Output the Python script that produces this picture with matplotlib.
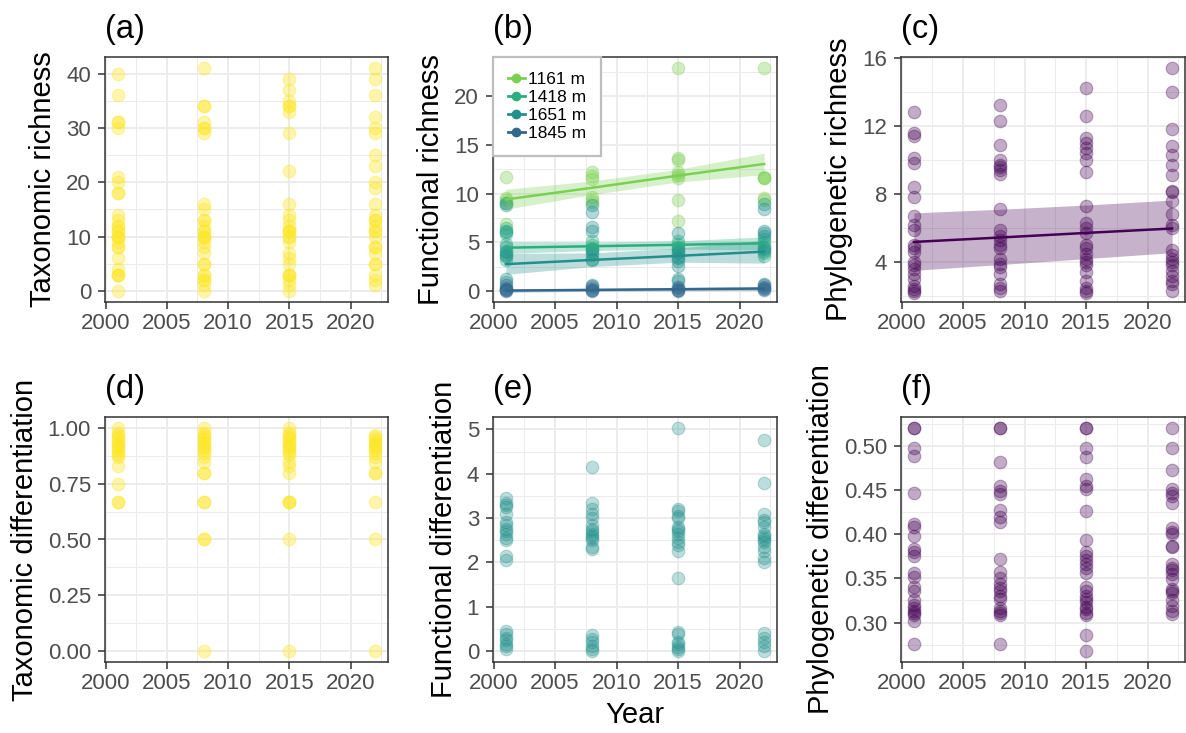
import matplotlib
matplotlib.use("Agg")
import matplotlib.pyplot as plt
from matplotlib.lines import Line2D
from matplotlib.ticker import FormatStrFormatter
import numpy as np

plt.rcParams["font.family"] = ["Liberation Sans", "DejaVu Sans"]

# sampling years (x of every point)
years = [2001, 2008, 2015, 2022]

# (a) taxonomic richness, one list per year
tax_rich = [
    [0, 3, 3, 3, 4, 6, 8, 8, 9, 10, 10, 10, 11, 11, 12, 12, 13, 14, 18, 18, 20, 21, 30, 31, 31, 36, 40],
    [0, 1, 2, 2, 3, 3, 5, 5, 7, 8, 9, 10, 10, 10, 11, 11, 12, 13, 13, 15, 16, 29, 30, 30, 31, 34, 34, 41],
    [0, 1, 2, 3, 3, 3, 5, 6, 7, 9, 10, 10, 11, 11, 11, 12, 13, 14, 16, 22, 29, 33, 34, 34, 35, 37, 39],
    [1, 2, 3, 5, 5, 7, 8, 8, 10, 11, 11, 12, 13, 13, 14, 16, 19, 20, 23, 25, 29, 30, 32, 36, 39, 41],
]

# (b) functional richness by site elevation
sites = ["1161 m", "1418 m", "1651 m", "1845 m"]
fric_1161 = [
    [11.7, 9.5, 9.3, 9.0, 6.9],
    [12.2, 11.8, 11.5, 9.7, 9.3, 9.1],
    [22.9, 13.7, 13.5, 12.2, 11.9, 11.6, 9.3, 7.2],
    [22.9, 11.7, 11.6, 11.6, 9.5, 9.3],
]
fric_1418 = [
    [6.5, 6.1, 5.8, 4.8, 4.0, 3.8, 3.6, 3.2],
    [5.1, 4.7, 4.4, 4.2, 3.7, 3.2],
    [5.1, 4.8, 4.5, 4.2, 3.9, 3.5],
    [5.3, 5.0, 4.6, 4.3, 3.9, 3.6],
]
fric_1651 = [
    [9.0, 8.8, 6.2, 4.5, 4.1, 3.6, 1.2, 0.9],
    [8.8, 8.1, 6.6, 6.2, 4.3, 4.0, 3.3, 0.6],
    [6.0, 4.4, 4.0, 3.4, 3.1, 2.6, 1.2, 1.0],
    [8.9, 8.4, 6.2, 5.9, 5.6, 4.4, 4.1, 0.7],
]
fric_1845 = [
    [0.6, 0.3, 0.2, 0.1, 0.05, 0.0],
    [0.5, 0.3, 0.1, 0.05, 0.0],
    [0.4, 0.3, 0.1, 0.05, 0.0],
    [0.6, 0.4, 0.3, 0.15, 0.05],
]
# fitted trend and confidence band at each year
fit_1161 = [9.4, 10.6, 11.85, 13.05]
lo_1161 = [8.4, 9.9, 11.2, 11.95]
hi_1161 = [10.45, 11.3, 12.5, 14.15]
fit_1418 = [4.44, 4.59, 4.74, 4.89]
lo_1418 = [3.85, 4.15, 4.3, 4.2]
hi_1418 = [5.05, 5.0, 5.15, 5.55]
fit_1651 = [2.75, 3.18, 3.6, 4.03]
lo_1651 = [1.7, 2.5, 2.95, 2.85]
hi_1651 = [3.85, 3.9, 4.4, 5.2]
fit_1845 = [0.03, 0.10, 0.17, 0.24]
lo_1845 = [-0.15, -0.05, 0.0, 0.02]
hi_1845 = [0.2, 0.25, 0.35, 0.45]

# (c) phylogenetic richness
phy_rich = [
    [12.8, 11.6, 11.4, 10.1, 9.8, 8.4, 7.8, 6.7, 6.2, 5.9, 5.0, 4.8, 4.6, 4.0, 3.8, 3.6, 3.3, 3.0, 2.6, 2.4, 2.3, 2.2],
    [13.2, 12.3, 10.9, 10.0, 9.7, 9.6, 9.4, 9.2, 7.1, 5.9, 5.5, 5.3, 5.0, 4.8, 4.2, 3.9, 3.7, 3.3, 2.7, 2.5, 2.3],
    [14.2, 12.6, 11.3, 11.0, 10.7, 10.4, 10.0, 9.3, 7.3, 6.3, 6.0, 5.7, 5.0, 4.8, 4.5, 4.2, 4.0, 3.8, 3.4, 2.9, 2.5, 2.3, 2.2],
    [15.4, 14.0, 11.8, 10.8, 10.3, 9.7, 9.1, 8.2, 8.1, 7.6, 6.8, 6.2, 6.0, 4.7, 4.4, 4.2, 4.0, 3.8, 3.5, 3.2, 2.9, 2.7, 2.3],
]
fit_phy = [5.18, 5.44, 5.71, 5.97]
lo_phy = [3.51, 3.85, 4.2, 4.55]
hi_phy = [6.89, 7.1, 7.35, 7.64]

# (d) taxonomic differentiation
tax_diff = [
    [1.0, 0.98, 0.97, 0.96, 0.95, 0.94, 0.93, 0.92, 0.91, 0.9, 0.89, 0.88, 0.87, 0.83, 0.75, 0.667, 0.667],
    [1.0, 0.98, 0.97, 0.96, 0.95, 0.94, 0.93, 0.92, 0.91, 0.9, 0.89, 0.87, 0.85, 0.8, 0.8, 0.667, 0.667, 0.5, 0.5, 0.0],
    [1.0, 0.98, 0.97, 0.96, 0.95, 0.94, 0.93, 0.92, 0.91, 0.9, 0.89, 0.88, 0.85, 0.83, 0.8, 0.667, 0.667, 0.667, 0.5, 0.0],
    [0.97, 0.96, 0.95, 0.94, 0.93, 0.92, 0.91, 0.9, 0.89, 0.87, 0.85, 0.8, 0.8, 0.667, 0.5, 0.0],
]

# (e) functional differentiation
fun_diff = [
    [3.45, 3.35, 3.3, 3.25, 3.1, 2.9, 2.85, 2.75, 2.7, 2.65, 2.55, 2.5, 2.15, 2.05, 0.45, 0.38, 0.3, 0.25, 0.15, 0.1, 0.05],
    [4.15, 3.35, 3.2, 3.1, 3.0, 2.85, 2.75, 2.7, 2.65, 2.6, 2.55, 2.5, 2.35, 2.3, 0.35, 0.28, 0.2, 0.1, 0.05, 0.0],
    [5.03, 3.2, 3.15, 3.05, 3.0, 2.8, 2.75, 2.7, 2.65, 2.55, 2.45, 2.4, 2.25, 1.65, 0.42, 0.38, 0.2, 0.15, 0.08, 0.05, 0.0],
    [4.75, 3.78, 3.1, 2.95, 2.9, 2.8, 2.65, 2.6, 2.55, 2.5, 2.45, 2.35, 2.25, 2.1, 2.0, 0.4, 0.3, 0.2, 0.1, 0.0],
]

# (f) phylogenetic differentiation
phy_diff = [
    [0.52, 0.52, 0.497, 0.489, 0.447, 0.411, 0.408, 0.398, 0.383, 0.38, 0.375, 0.356, 0.352, 0.34, 0.336,
     0.325, 0.32, 0.316, 0.313, 0.311, 0.309, 0.302, 0.276],
    [0.52, 0.52, 0.482, 0.454, 0.449, 0.446, 0.427, 0.419, 0.414, 0.372, 0.357, 0.351, 0.344, 0.339, 0.336,
     0.33, 0.327, 0.316, 0.313, 0.311, 0.309, 0.276],
    [0.52, 0.52, 0.497, 0.487, 0.462, 0.455, 0.451, 0.426, 0.393, 0.38, 0.375, 0.371, 0.366, 0.362, 0.356,
     0.34, 0.336, 0.33, 0.327, 0.323, 0.318, 0.315, 0.311, 0.309, 0.286, 0.268],
    [0.52, 0.497, 0.473, 0.451, 0.447, 0.443, 0.435, 0.407, 0.403, 0.4, 0.387, 0.385, 0.366, 0.362, 0.359,
     0.355, 0.349, 0.338, 0.336, 0.333, 0.326, 0.319, 0.313, 0.31],
]

YELLOW = "#FDE725"
PURPLE = "#440154"
TEAL = "#21908C"
site_colors = ["#7AD151", "#29AF7F", "#21908C", "#31688E"]

W, H = 1186, 733
fig = plt.figure(figsize=(W / 100, H / 100), dpi=100)


def make_ax(left, top, width=284, height=245):
    return fig.add_axes([left / W, 1 - (top + height) / H, width / W, height / H])


def style(ax, tag, ylabel, ylim, yticks, yminor, fmt=None):
    ax.set_xlim(1999.95, 2023.05)
    ax.set_ylim(*ylim)
    ax.set_xticks([2000, 2005, 2010, 2015, 2020])
    ax.set_xticks([2002.5, 2007.5, 2012.5, 2017.5, 2022.5], minor=True)
    ax.set_yticks(yticks)
    ax.set_yticks(yminor, minor=True)
    if fmt:
        ax.yaxis.set_major_formatter(FormatStrFormatter(fmt))
    ax.grid(which="major", color="#EBEBEB", lw=1.3)
    ax.grid(which="minor", color="#EBEBEB", lw=0.7)
    ax.set_axisbelow(True)
    for sp in ax.spines.values():
        sp.set_color("#333333")
        sp.set_linewidth(1.1)
    ax.tick_params(which="major", length=5, width=1.1, color="#333333",
                   labelsize=16, labelcolor="#4D4D4D")
    ax.tick_params(axis="y", which="major", pad=5)
    ax.tick_params(axis="x", which="major", pad=3)
    ax.tick_params(which="minor", length=0)
    ax.set_ylabel(ylabel, fontsize=21, labelpad=6.5)
    ax.set_title(tag, loc="left", fontsize=23.5, pad=14)


def dots(ax, vals, color, alpha):
    x = np.repeat(years, [len(v) for v in vals])
    y = np.concatenate(vals)
    ax.scatter(x, y, s=82, color=color, alpha=alpha, edgecolors=color,
               linewidths=0.8, zorder=2)


def trend(ax, fit, lo, hi, color, alpha=0.3):
    ax.fill_between(years, lo, hi, color=color, alpha=alpha, lw=0, zorder=3)
    ax.plot(years, fit, color=color, lw=1.8, zorder=4)


ax_a = make_ax(105, 57, width=283)
ax_b = make_ax(493, 57)
ax_c = make_ax(901, 57)
ax_d = make_ax(105, 417, width=283)
ax_e = make_ax(493, 417)
ax_f = make_ax(901, 417)

# (a)
dots(ax_a, tax_rich, YELLOW, 0.38)
style(ax_a, "(a)", "Taxonomic richness", (-2.05, 43.05),
      [0, 10, 20, 30, 40], [5, 15, 25, 35])

# (b)
for vals, c in zip([fric_1161, fric_1418, fric_1651, fric_1845], site_colors):
    dots(ax_b, vals, c, 0.35)
trend(ax_b, fit_1161, lo_1161, hi_1161, site_colors[0])
trend(ax_b, fit_1418, lo_1418, hi_1418, site_colors[1])
trend(ax_b, fit_1651, lo_1651, hi_1651, site_colors[2])
trend(ax_b, fit_1845, lo_1845, hi_1845, site_colors[3])
style(ax_b, "(b)", "Functional richness", (-1.145, 24.05),
      [0, 5, 10, 15, 20], [2.5, 7.5, 12.5, 17.5, 22.5])
handles = [Line2D([0], [0], color=c, lw=2, marker="o", markersize=6) for c in site_colors]
leg = ax_b.legend(handles, sites, loc="upper left", bbox_to_anchor=(0, 1),
                  borderaxespad=0, fontsize=12.5, handlelength=1.0,
                  handletextpad=0.15, labelspacing=0.17, borderpad=0.85,
                  fancybox=False, framealpha=1, edgecolor="#BEBEBE")
leg.get_frame().set_linewidth(1.6)
leg.set_zorder(10)

# (c)
dots(ax_c, phy_rich, PURPLE, 0.33)
trend(ax_c, fit_phy, lo_phy, hi_phy, PURPLE, alpha=0.3)
style(ax_c, "(c)", "Phylogenetic richness", (1.65, 16.05),
      [4, 8, 12, 16], [2, 6, 10, 14])

# (d)
dots(ax_d, tax_diff, YELLOW, 0.38)
style(ax_d, "(d)", "Taxonomic differentiation", (-0.05, 1.05),
      [0, 0.25, 0.5, 0.75, 1.0], [0.125, 0.375, 0.625, 0.875], fmt="%.2f")

# (e)
dots(ax_e, fun_diff, TEAL, 0.3)
style(ax_e, "(e)", "Functional differentiation", (-0.25, 5.28),
      [0, 1, 2, 3, 4, 5], [0.5, 1.5, 2.5, 3.5, 4.5])
ax_e.set_xlabel("Year", fontsize=21, labelpad=5)

# (f)
dots(ax_f, phy_diff, PURPLE, 0.33)
style(ax_f, "(f)", "Phylogenetic differentiation", (0.2554, 0.5326),
      [0.30, 0.35, 0.40, 0.45, 0.50], [0.275, 0.325, 0.375, 0.425, 0.475, 0.525], fmt="%.2f")

fig.savefig("out.png", dpi=100)
plt.close(fig)
